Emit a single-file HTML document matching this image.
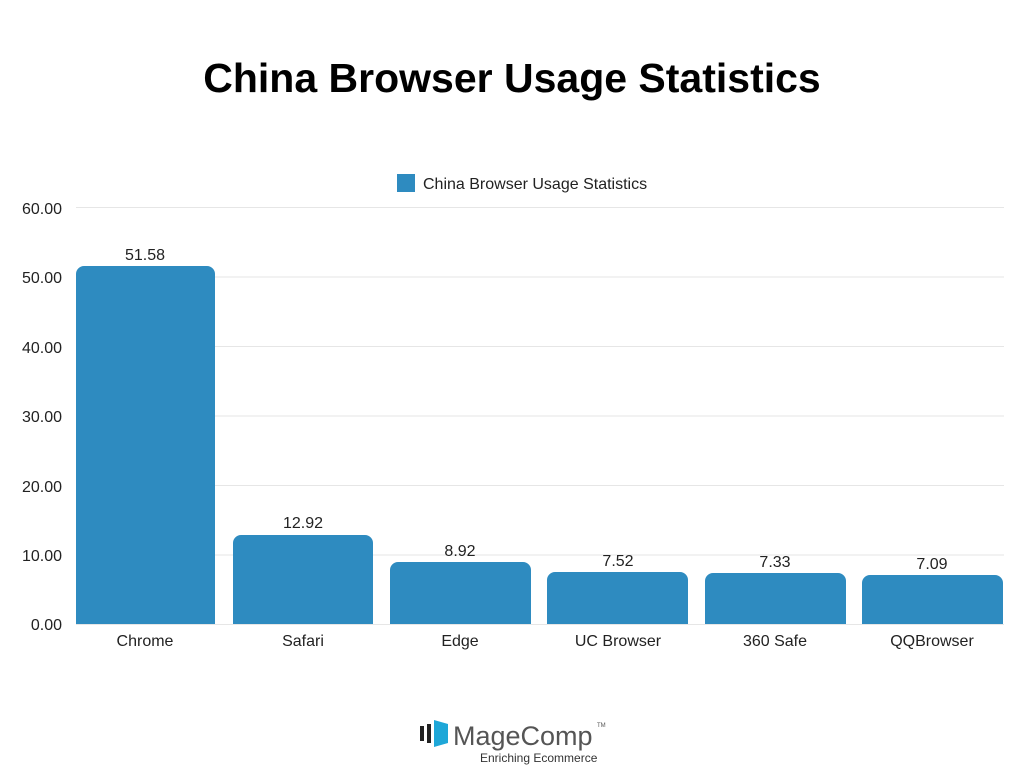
<!DOCTYPE html>
<html><head><meta charset="utf-8"><style>
body{margin:0;background:#fff;width:1024px;height:777px;overflow:hidden;font-family:"Liberation Sans",sans-serif}
</style></head><body>
<svg width="1024" height="777" viewBox="0 0 1024 777" xmlns="http://www.w3.org/2000/svg" font-family="Liberation Sans, sans-serif">
<text x="512" y="92" text-anchor="middle" font-size="41" font-weight="bold" fill="#000">China Browser Usage Statistics</text>
<rect x="397" y="174" width="18" height="18" fill="#2e8bc0"/>
<text x="423" y="189" font-size="16" fill="#222">China Browser Usage Statistics</text>
<g stroke="#e6e6e6" stroke-width="1">
<line x1="76" x2="1004" y1="207.5" y2="207.5"/>
<line x1="76" x2="1004" y1="277" y2="277"/>
<line x1="76" x2="1004" y1="346.5" y2="346.5"/>
<line x1="76" x2="1004" y1="416" y2="416"/>
<line x1="76" x2="1004" y1="485.5" y2="485.5"/>
<line x1="76" x2="1004" y1="555" y2="555"/>
<line x1="76" x2="1004" y1="624.5" y2="624.5"/>
</g>
<g font-size="16" fill="#222" text-anchor="end">
<text x="62" y="214">60.00</text>
<text x="62" y="283">50.00</text>
<text x="62" y="353">40.00</text>
<text x="62" y="422">30.00</text>
<text x="62" y="492">20.00</text>
<text x="62" y="561">10.00</text>
<text x="62" y="630">0.00</text>
</g>
<g fill="#2e8bc0">
<path d="M76,624 V274 a8,8 0 0 1 8,-8 H207 a8,8 0 0 1 8,8 V624Z"/>
<path d="M233,624 V543 a8,8 0 0 1 8,-8 H365 a8,8 0 0 1 8,8 V624Z"/>
<path d="M390,624 V570 a8,8 0 0 1 8,-8 H523 a8,8 0 0 1 8,8 V624Z"/>
<path d="M547,624 V580 a8,8 0 0 1 8,-8 H680 a8,8 0 0 1 8,8 V624Z"/>
<path d="M705,624 V581 a8,8 0 0 1 8,-8 H838 a8,8 0 0 1 8,8 V624Z"/>
<path d="M862,624 V583 a8,8 0 0 1 8,-8 H995 a8,8 0 0 1 8,8 V624Z"/>
</g>
<g font-size="16" fill="#222" text-anchor="middle">
<text x="145" y="260">51.58</text>
<text x="303" y="528">12.92</text>
<text x="460" y="556">8.92</text>
<text x="618" y="566">7.52</text>
<text x="775" y="567">7.33</text>
<text x="932" y="569">7.09</text>
<text x="145" y="646">Chrome</text>
<text x="303" y="646">Safari</text>
<text x="460" y="646">Edge</text>
<text x="618" y="646">UC Browser</text>
<text x="775" y="646">360 Safe</text>
<text x="932" y="646">QQBrowser</text>
</g>
<g>
<rect x="420" y="726" width="4" height="15" fill="#222"/>
<rect x="427" y="724" width="4" height="19" fill="#222"/>
<path d="M434,720 L448,724 V743 L434,747Z" fill="#1ea7d8"/>
<text x="453" y="745" font-size="27" fill="#555">MageComp</text>
<text x="597" y="727" font-size="6" fill="#555">TM</text>
<text x="480" y="762" font-size="12" fill="#333">Enriching Ecommerce</text>
</g>
</svg>
</body></html>
